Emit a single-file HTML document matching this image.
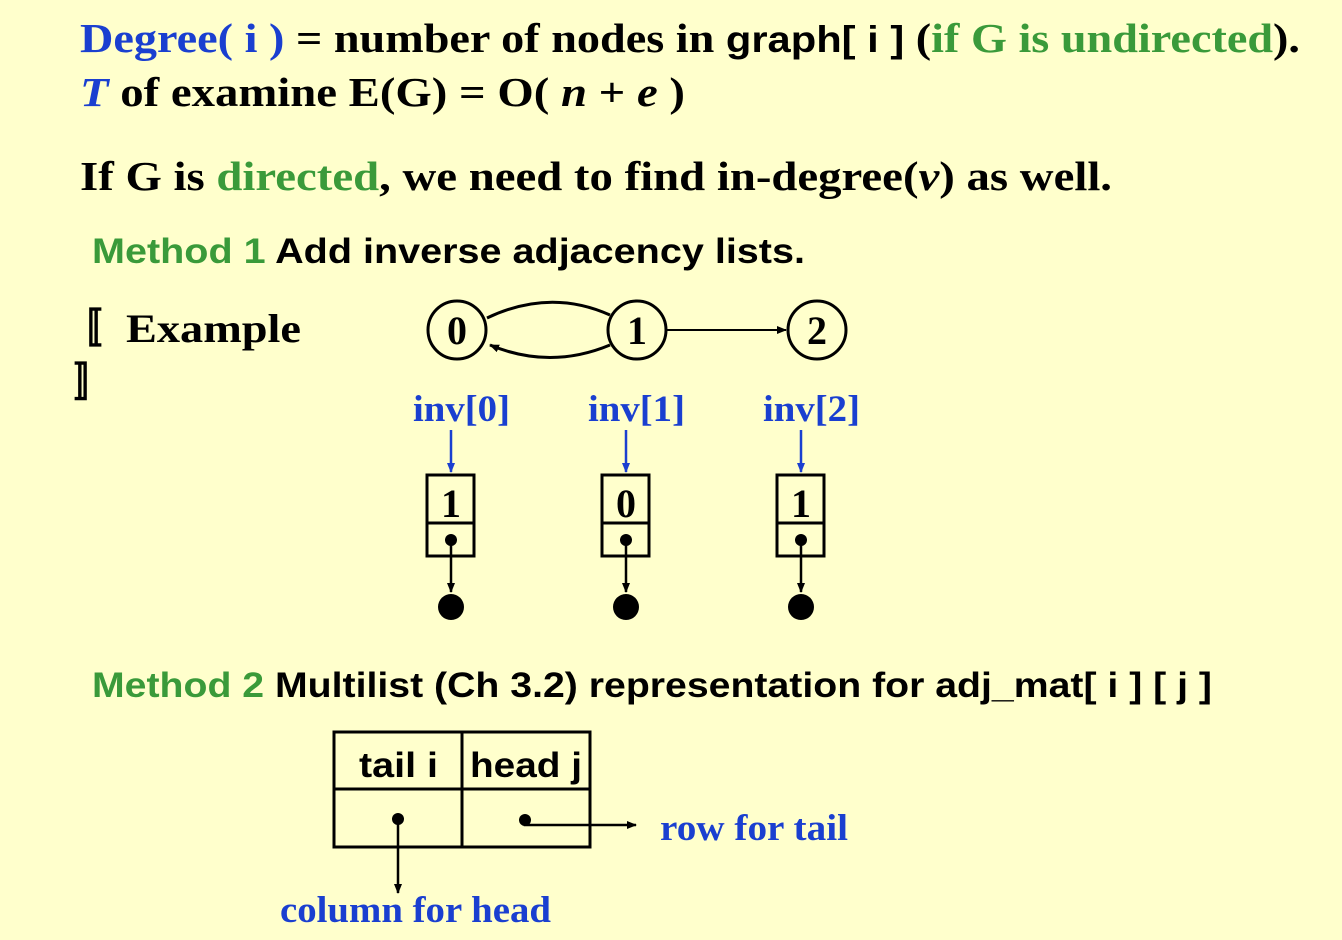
<!DOCTYPE html>
<html><head><style>
html,body{margin:0;padding:0;background:#FFFFCC;}
svg{display:block}
.s{font-family:"Liberation Serif",serif;font-weight:bold}
.a{font-family:"Liberation Sans",sans-serif;font-weight:bold}
</style></head><body>
<svg width="1342" height="940" viewBox="0 0 1342 940">
<rect width="1342" height="940" fill="#FFFFCC"/>
<defs>
<marker id="ab" markerWidth="10" markerHeight="10" refX="9" refY="5" orient="auto" markerUnits="userSpaceOnUse"><path d="M0,1 L10,5 L0,9 Z" fill="#000"/></marker>
<marker id="au" markerWidth="10" markerHeight="10" refX="9" refY="5" orient="auto" markerUnits="userSpaceOnUse"><path d="M0,1 L10,5 L0,9 Z" fill="#1a3fd0"/></marker>
</defs>
<text x="80" y="52" class="s" font-size="41" textLength="1220" lengthAdjust="spacingAndGlyphs"><tspan fill="#1a3fd0">Degree( i )</tspan> = number of nodes in <tspan class="a" font-size="37">graph[ i ]</tspan> (<tspan fill="#3a9a3a">if G is undirected</tspan>).</text>
<text x="80" y="106" class="s" font-size="41" textLength="605" lengthAdjust="spacingAndGlyphs"><tspan fill="#1a3fd0" font-style="italic">T</tspan> of examine E(G) = O( <tspan font-style="italic">n</tspan> + <tspan font-style="italic">e</tspan> )</text>
<text x="80" y="190" class="s" font-size="41" textLength="1032" lengthAdjust="spacingAndGlyphs">If G is <tspan fill="#3a9a3a">directed</tspan>, we need to find in-degree(<tspan font-style="italic">v</tspan>) as well.</text>
<text x="92" y="263" class="a" font-size="35" textLength="713" lengthAdjust="spacingAndGlyphs"><tspan fill="#3a9a3a">Method 1</tspan>  Add inverse adjacency lists.</text>
<text x="62" y="342" class="s" font-size="40">〚</text>
<text x="126" y="342" class="s" font-size="40" textLength="175" lengthAdjust="spacingAndGlyphs">Example</text>
<text x="74" y="396" class="s" font-size="40">〛</text>
<g fill="none" stroke="#000" stroke-width="3">
<circle cx="457" cy="330" r="29"/><circle cx="637" cy="330" r="29"/><circle cx="817" cy="330" r="29"/>
<path d="M487,318 Q550,288 610,315" />
<path d="M610,345 Q550,370 490,345" marker-end="url(#ab)"/>
<line x1="667" y1="330" x2="786" y2="330" stroke-width="2" marker-end="url(#ab)"/>
</g>
<g class="s" font-size="40" text-anchor="middle"><text x="457" y="344">0</text><text x="637" y="344">1</text><text x="817" y="344">2</text></g>
<g class="s" font-size="37" fill="#1a3fd0"><text x="413" y="421" textLength="97" lengthAdjust="spacingAndGlyphs">inv[0]</text><text x="588" y="421" textLength="97" lengthAdjust="spacingAndGlyphs">inv[1]</text><text x="763" y="421" textLength="97" lengthAdjust="spacingAndGlyphs">inv[2]</text></g>
<g stroke="#1a3fd0" stroke-width="2.5"><line x1="451" y1="430" x2="451" y2="472" marker-end="url(#au)"/><line x1="626" y1="430" x2="626" y2="472" marker-end="url(#au)"/><line x1="801" y1="430" x2="801" y2="472" marker-end="url(#au)"/></g>
<g fill="none" stroke="#000" stroke-width="3">
<rect x="427" y="475" width="47" height="81"/><line x1="427" y1="523" x2="474" y2="523"/>
<rect x="602" y="475" width="47" height="81"/><line x1="602" y1="523" x2="649" y2="523"/>
<rect x="777" y="475" width="47" height="81"/><line x1="777" y1="523" x2="824" y2="523"/>
</g>
<g class="s" font-size="40" text-anchor="middle"><text x="451" y="517">1</text><text x="626" y="517">0</text><text x="801" y="517">1</text></g>
<g stroke="#000" stroke-width="2.5">
<line x1="451" y1="540" x2="451" y2="592" marker-end="url(#ab)"/><line x1="626" y1="540" x2="626" y2="592" marker-end="url(#ab)"/><line x1="801" y1="540" x2="801" y2="592" marker-end="url(#ab)"/>
</g>
<g fill="#000"><circle cx="451" cy="540" r="6"/><circle cx="626" cy="540" r="6"/><circle cx="801" cy="540" r="6"/>
<circle cx="451" cy="607" r="13"/><circle cx="626" cy="607" r="13"/><circle cx="801" cy="607" r="13"/></g>
<text x="92" y="697" class="a" font-size="35" textLength="1120" lengthAdjust="spacingAndGlyphs"><tspan fill="#3a9a3a">Method 2</tspan>  Multilist (Ch 3.2) representation for adj_mat[ i ] [ j ]</text>
<g fill="none" stroke="#000" stroke-width="3">
<rect x="334" y="732" width="256" height="115"/><line x1="462" y1="732" x2="462" y2="847"/><line x1="334" y1="789" x2="590" y2="789"/>
</g>
<text x="359" y="777" class="a" font-size="35" textLength="79" lengthAdjust="spacingAndGlyphs">tail i</text>
<text x="470" y="777" class="a" font-size="35" textLength="112" lengthAdjust="spacingAndGlyphs">head j</text>
<g stroke="#000" stroke-width="2.5">
<line x1="398" y1="819" x2="398" y2="893" marker-end="url(#ab)"/>
<path d="M525,818 L525,825 L636,825" fill="none" marker-end="url(#ab)"/>
</g>
<circle cx="398" cy="819" r="6" fill="#000"/><circle cx="525" cy="820" r="6" fill="#000"/>
<text x="660" y="840" class="s" font-size="37" fill="#1a3fd0" textLength="188" lengthAdjust="spacingAndGlyphs">row for tail</text>
<text x="280" y="922" class="s" font-size="37" fill="#1a3fd0" textLength="271" lengthAdjust="spacingAndGlyphs">column for head</text>
</svg>
</body></html>
